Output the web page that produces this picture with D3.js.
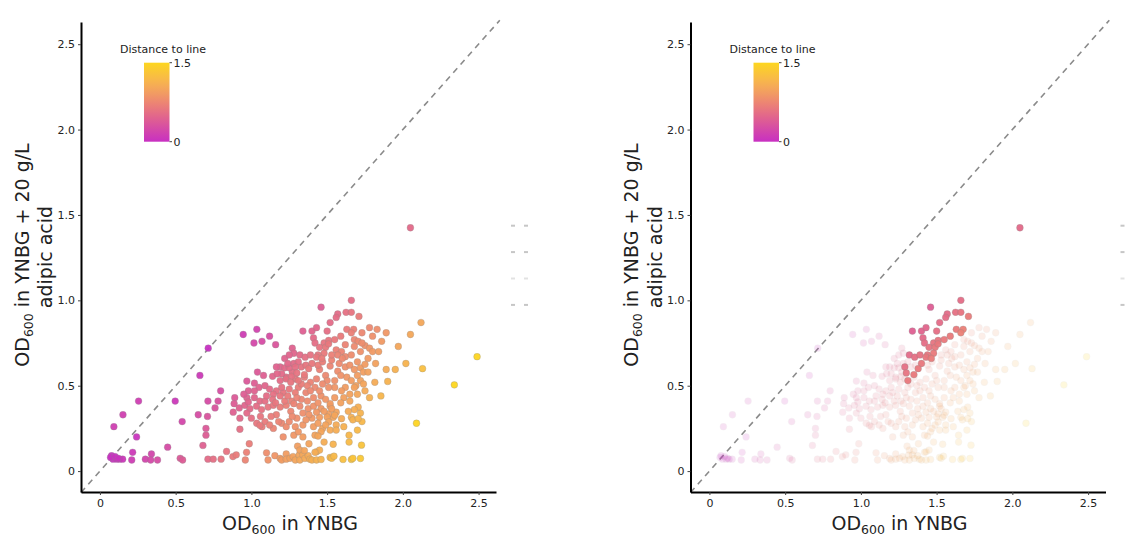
<!DOCTYPE html>
<html>
<head>
<meta charset="utf-8">
<script src="https://cdn.jsdelivr.net/npm/d3@7"></script>
<style>
  body { margin: 0; background: #fff; }
  svg { display: block; font-family: "DejaVu Sans", Verdana, sans-serif; }
</style>
</head>
<body>
<svg id="chart" width="1127" height="538"></svg>
<script>
// tick values / labels shared by both axes
const tickValues = [0, 0.5, 1, 1.5, 2, 2.5];
const tickLabels = ["0", "0.5", "1.0", "1.5", "2.0", "2.5"];
const colorbarTicks = [0, 1.5];
const colorbarLabels = ["0", "1.5"];

// points that stay highlighted in the right panel
const selX = [2.05, 1.66, 1.46, 1.625, 1.66, 1.57, 1.56, 1.71, 1.52, 1.34, 1.40, 1.43, 1.50, 1.63, 1.675,
  1.66, 1.41, 1.42, 1.48, 1.51, 1.55, 1.59, 1.45, 1.49, 1.51, 1.48, 1.44, 1.32, 1.355, 1.39, 1.43, 1.465,
  1.40, 1.29, 1.30, 1.35, 1.31, 1.378];
const selY = [1.425, 1.00, 0.96, 0.93, 0.93, 0.92, 0.90, 0.906, 0.87, 0.82, 0.82, 0.84, 0.82, 0.83, 0.83,
  0.81, 0.78, 0.75, 0.75, 0.765, 0.77, 0.79, 0.725, 0.725, 0.745, 0.69, 0.68, 0.68, 0.667, 0.68, 0.667, 0.66,
  0.63, 0.61, 0.575, 0.565, 0.53, 0.60];

// all other points
const otherX = [0.946, 1.036, 1.017, 1.07, 1.12, 1.16, 0.715, 0.66, 0.255, 0.152, 0.092, 0.242, 0.497, 0.543,
  0.447, 0.649, 0.713, 0.78, 0.797, 0.76, 0.71, 0.70, 0.70, 0.68, 0.077, 0.086, 0.11, 0.13, 0.15, 0.216, 0.21,
  0.30, 0.34, 0.335, 0.38, 0.53, 0.546, 0.713, 0.748, 0.80, 0.836, 0.878, 0.90, 0.96, 0.968, 0.986, 0.924,
  0.07, 0.10, 0.12,
  1.10, 1.11, 1.155, 1.19, 1.20, 1.23, 1.23, 1.255, 1.275, 1.29, 1.305, 1.315, 1.32, 1.32, 1.34, 1.353, 1.375,
  1.386, 1.40, 1.43, 1.43, 1.45, 1.46, 1.52, 1.53, 1.545, 1.54, 1.605, 1.645, 1.66, 1.67, 1.72, 1.727, 1.35, 1.42,
  1.73, 1.78, 1.83, 1.89, 2.05, 2.12, 1.68, 1.705, 1.97, 2.49, 1.27, 1.28, 1.56, 1.595, 1.57, 1.62, 1.66, 1.72,
  1.75, 1.78, 1.80, 1.84, 1.19, 1.22, 1.27, 1.45, 1.49, 1.52, 1.57, 1.62, 1.65, 1.68, 1.72, 1.75, 1.74, 1.89,
  1.95, 2.02, 2.13, 2.34, 1.815, 1.90, 1.63, 1.66, 1.72, 1.74, 1.69, 1.62, 1.78, 1.855, 1.55, 1.19, 1.23, 1.29,
  1.35, 1.39, 1.43, 1.50, 1.51, 1.55, 1.595, 1.61, 1.21, 1.25, 1.31, 1.36, 1.41, 1.46, 1.33, 1.265, 1.19, 1.23,
  1.28, 1.32, 1.375, 1.41, 1.46, 1.52, 1.56, 1.54, 1.51, 1.45, 1.40, 1.66, 1.72, 1.73, 1.67, 1.61, 1.645, 1.70,
  2.09, 1.20, 1.23, 1.29, 1.34, 1.41, 1.47, 1.52, 1.28, 1.34, 1.42, 1.46, 1.44, 1.165, 1.25, 1.33, 1.14, 1.20,
  1.23, 1.265, 0.97, 1.02, 1.05, 1.09, 1.12, 1.165, 1.20, 0.98, 1.02, 0.97, 1.02, 1.056, 1.09, 1.145, 1.19, 1.22,
  0.89, 0.886, 0.92, 0.957, 0.98, 0.99, 1.034, 1.067, 1.11, 1.145, 1.165, 0.88, 0.924, 0.97, 1.0, 1.035, 1.07,
  1.09, 1.13, 1.18, 1.25, 1.30, 1.22, 1.25, 1.55, 1.52, 1.53, 1.50, 1.55, 1.595, 1.51, 1.56, 1.705, 1.705, 1.75,
  1.68, 1.145, 1.31, 1.056,
  1.17, 1.28, 1.24, 1.31, 1.36, 1.44, 1.47, 1.53, 1.58, 1.60, 1.53, 1.26, 1.33, 1.37, 1.42, 1.47, 1.45, 1.39,
  1.29, 1.24, 1.30, 1.37, 1.44, 1.49, 1.26, 1.34, 1.38, 1.43, 1.48, 1.27, 1.36, 1.44, 1.49, 1.56, 1.59, 1.65,
  1.65, 1.70, 1.68, 1.64, 1.59, 1.70, 1.77, 1.82, 1.77, 1.70, 1.08, 1.10, 1.14, 1.06, 1.16, 1.62, 1.68, 1.73,
  1.86, 1.80, 1.04, 0.95, 1.12, 1.21, 1.38, 1.48];
const otherY = [0.80, 0.83, 0.75, 0.76, 0.79, 0.74, 0.72, 0.56, 0.41, 0.33, 0.26, 0.20, 0.41, 0.29,
  0.14, 0.33, 0.41, 0.41, 0.47, 0.37, 0.32, 0.25, 0.21, 0.15, 0.09, 0.07, 0.07, 0.07, 0.07, 0.11, 0.065,
  0.07, 0.10, 0.065, 0.065, 0.075, 0.065, 0.07, 0.07, 0.07, 0.115, 0.085, 0.095, 0.065, 0.11, 0.16, 0.245,
  0.08, 0.085, 0.075,
  0.107, 0.065, 0.09, 0.074, 0.065, 0.10, 0.07, 0.075, 0.085, 0.065, 0.146, 0.093, 0.123, 0.065, 0.095, 0.074, 0.09,
  0.07, 0.065, 0.113, 0.065, 0.123, 0.068, 0.08, 0.075, 0.087, 0.157, 0.068, 0.17, 0.068, 0.075, 0.074, 0.152, 0.12, 0.11,
  0.81, 0.84, 0.83, 0.81, 0.80, 0.87, 0.77, 0.76, 0.73, 0.67, 0.72, 0.69, 0.71, 0.70, 0.68, 0.67, 0.68, 0.70,
  0.735, 0.72, 0.70, 0.70, 0.61, 0.605, 0.58, 0.595, 0.56, 0.615, 0.585, 0.61, 0.62, 0.595, 0.605, 0.625, 0.58, 0.595,
  0.595, 0.63, 0.60, 0.505, 0.52, 0.525, 0.55, 0.53, 0.53, 0.51, 0.50, 0.49, 0.43, 0.44, 0.49, 0.53, 0.55, 0.54,
  0.55, 0.52, 0.54, 0.53, 0.49, 0.53, 0.47, 0.43, 0.46, 0.48, 0.49, 0.46, 0.43, 0.44, 0.42, 0.41, 0.375, 0.385,
  0.395, 0.38, 0.365, 0.38, 0.365, 0.38, 0.345, 0.315, 0.335, 0.315, 0.31, 0.315, 0.34, 0.29, 0.30, 0.26, 0.21, 0.24,
  0.28, 0.28, 0.26, 0.26, 0.27, 0.26, 0.25, 0.24, 0.21, 0.20, 0.21, 0.23, 0.205, 0.61, 0.605, 0.61, 0.555, 0.57,
  0.54, 0.555, 0.527, 0.515, 0.49, 0.50, 0.48, 0.47, 0.49, 0.47, 0.47, 0.43, 0.43, 0.41, 0.41, 0.45, 0.44, 0.41,
  0.43, 0.395, 0.37, 0.385, 0.405, 0.365, 0.38, 0.36, 0.375, 0.385, 0.33, 0.345, 0.31, 0.34, 0.31, 0.28, 0.26,
  0.29, 0.32, 0.29, 0.29, 0.31, 0.66, 0.68, 0.43, 0.395, 0.365, 0.317, 0.327, 0.307, 0.288, 0.27, 0.307, 0.375, 0.47,
  0.49, 0.25, 0.23, 0.268,
  0.57, 0.63, 0.63, 0.64, 0.62, 0.62, 0.64, 0.65, 0.63, 0.66, 0.68, 0.52, 0.51, 0.50, 0.49, 0.51, 0.47, 0.47,
  0.46, 0.44, 0.43, 0.41, 0.40, 0.42, 0.35, 0.34, 0.33, 0.345, 0.35, 0.32, 0.30, 0.28, 0.27, 0.24, 0.40, 0.41,
  0.45, 0.45, 0.36, 0.35, 0.56, 0.56, 0.58, 0.63, 0.66, 0.64, 0.56, 0.44, 0.42, 0.32, 0.40, 0.74, 0.73, 0.75,
  0.76, 0.79, 0.58, 0.45, 0.27, 0.20, 0.16, 0.17];

// faint legend entries on the right of each panel
const legendShades = ["#c6c6c6", "#c6c6c6", "#e2e2e2", "#c6c6c6"];

const svg = d3.select("#chart");
const panelShifts = [0, 609.5];

const selPts = selX.map((v, i) => ({ x: v, y: selY[i], sel: true }));
const otherPts = otherX.map((v, i) => ({ x: v, y: otherY[i], sel: false }));
const allPts = otherPts.concat(selPts);
allPts.forEach(d => { d.dist = Math.abs(d.x - d.y) / Math.SQRT2; });

const colorRamp = d3.interpolateRgbBasis(["#c830c2", "#d8509f", "#e8737f", "#f29a64", "#f8bb4a", "#fdd61f"]);
const color = d3.scaleSequential(colorRamp).domain([0, d3.max(allPts, d => d.dist)]);

// gradient for colorbar
const defs = svg.append("defs");
const grad = defs.append("linearGradient").attr("id", "cbar")
  .attr("x1", 0).attr("y1", 1).attr("x2", 0).attr("y2", 0);
d3.range(0, 1.001, 0.1).forEach(t => {
  grad.append("stop").attr("offset", t).attr("stop-color", colorRamp(t));
});

function drawPanel(shift, fadeOthers) {
  const g = svg.append("g").attr("transform", `translate(${shift},0)`);
  const x = d3.scaleLinear().domain([-0.125, 2.615]).range([81, 496]);
  const y = d3.scaleLinear().domain([-0.1225, 2.63]).range([492, 22]);

  // diagonal reference line
  g.append("line")
    .attr("x1", x(-0.125)).attr("y1", y(-0.125))
    .attr("x2", x(2.64)).attr("y2", y(2.64))
    .attr("stroke", "#8a8a8a").attr("stroke-width", 1.6)
    .attr("stroke-dasharray", "6,5");

  // axes
  const xAxis = g.append("g").attr("transform", "translate(0,492)")
    .call(d3.axisBottom(x).tickValues(tickValues)
      .tickFormat((d, i) => tickLabels[i]).tickSize(3).tickSizeOuter(0).tickPadding(4));
  const yAxis = g.append("g").attr("transform", "translate(81,0)")
    .call(d3.axisLeft(y).tickValues(tickValues)
      .tickFormat((d, i) => tickLabels[i]).tickSize(3).tickSizeOuter(0).tickPadding(3));
  [xAxis, yAxis].forEach(a => {
    a.select(".domain").attr("stroke", "#000").attr("stroke-width", 2);
    a.selectAll(".tick line").attr("stroke", "#444");
    a.selectAll(".tick text").attr("fill", "#222").style("font-size", "11px")
      .style("font-family", "DejaVu Sans, Verdana, sans-serif");
  });

  // points
  const pts = fadeOthers ? otherPts.concat(selPts) : allPts;
  g.append("g").selectAll("circle")
    .data(pts)
    .enter()
    .append("circle")
    .attr("cx", d => x(d.x))
    .attr("cy", d => y(d.y))
    .attr("r", 3.4)
    .attr("fill", d => color(d.dist))
    .attr("stroke", "#8c8c8c")
    .attr("stroke-width", 0.5)
    .attr("stroke-opacity", 0.6)
    .attr("opacity", d => (fadeOthers && !d.sel) ? 0.15 : 0.95);

  // axis titles
  const xt = g.append("text")
    .attr("x", 290).attr("y", 530)
    .attr("text-anchor", "middle")
    .attr("fill", "#222")
    .style("font-size", "19px");
  xt.append("tspan").text("OD");
  xt.append("tspan").attr("dy", 4).style("font-size", "12.5px").text("600");
  xt.append("tspan").attr("dy", -4).text(" in YNBG");

  const yt = g.append("text")
    .attr("transform", "translate(28.5,255) rotate(-90)")
    .attr("text-anchor", "middle")
    .attr("fill", "#222")
    .style("font-size", "19px");
  yt.append("tspan").text("OD");
  yt.append("tspan").attr("dy", 4).style("font-size", "12.5px").text("600");
  yt.append("tspan").attr("dy", -4).text(" in YNBG + 20 g/L");
  g.append("text")
    .attr("transform", "translate(52,257) rotate(-90)")
    .attr("text-anchor", "middle")
    .attr("fill", "#222")
    .style("font-size", "19px")
    .text("adipic acid");

  // colorbar
  const cb = d3.scaleLinear().domain([0, 1.5]).range([141.7, 62.7]);
  g.append("rect")
    .attr("x", 144).attr("y", cb(1.5))
    .attr("width", 25.5).attr("height", cb(0) - cb(1.5))
    .attr("fill", "url(#cbar)");
  g.append("text")
    .attr("x", 163).attr("y", 53)
    .attr("text-anchor", "middle")
    .attr("fill", "#222")
    .style("font-size", "11px")
    .text("Distance to line");
  const cbt = g.append("g").selectAll("g")
    .data(colorbarTicks)
    .enter()
    .append("g")
    .attr("transform", d => `translate(169.5,${cb(d)})`);
  cbt.append("line").attr("x2", 2.5).attr("stroke", "#444");
  cbt.append("text")
    .attr("x", 4).attr("dy", "0.35em")
    .attr("fill", "#222")
    .style("font-size", "11px")
    .text((d, i) => colorbarLabels[i]);

  // faint legend marks
  const lg = g.append("g").selectAll("g")
    .data(legendShades)
    .enter()
    .append("g")
    .attr("transform", (d, i) => `translate(511,${225.7 + i * 26.4})`);
  lg.append("line").attr("x1", 0).attr("x2", 4)
    .attr("stroke", d => d).attr("stroke-width", 2);
  lg.append("line").attr("x1", 13).attr("x2", 17)
    .attr("stroke", d => d).attr("stroke-width", 2);
}

drawPanel(panelShifts[0], false);
drawPanel(panelShifts[1], true);
</script>
</body>
</html>
